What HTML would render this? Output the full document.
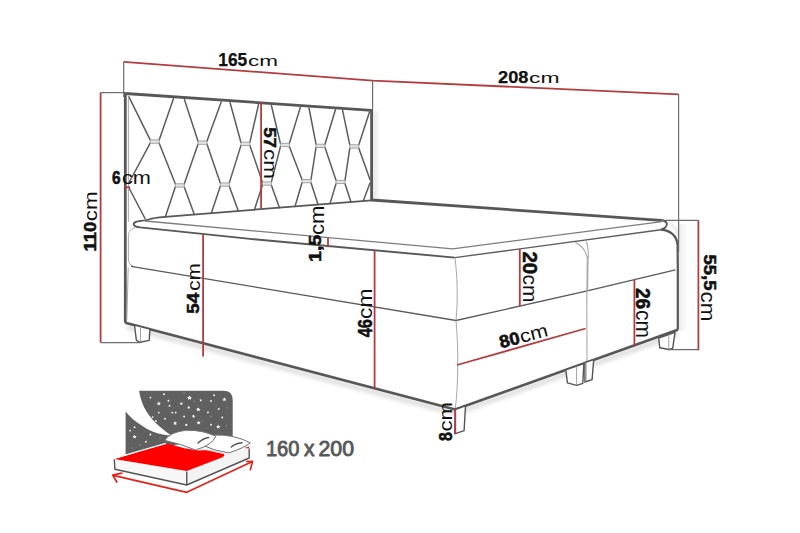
<!DOCTYPE html>
<html><head><meta charset="utf-8"><style>
html,body{margin:0;padding:0;background:#fff;}
svg{display:block;}
</style></head><body>
<svg width="800" height="533" viewBox="0 0 800 533">
<rect width="800" height="533" fill="#fff"/>
<defs>
<linearGradient id="gR" x1="0" y1="0" x2="1" y2="0"><stop offset="0" stop-color="#000" stop-opacity="0.07"/><stop offset="1" stop-color="#000" stop-opacity="0"/></linearGradient>
<linearGradient id="gH" x1="0" y1="0" x2="1" y2="0"><stop offset="0" stop-color="#000" stop-opacity="0.10"/><stop offset="1" stop-color="#000" stop-opacity="0"/></linearGradient>
<filter id="bl" x="-10%" y="-50%" width="120%" height="200%"><feGaussianBlur stdDeviation="2.2"/></filter>
</defs>
<rect x="679" y="224" width="9" height="107" fill="url(#gR)"/>
<path d="M664,221 C670,223 676,230 678,242 L678,228 C675,224 670,221.5 664,221 Z" fill="#000" fill-opacity="0.06"/>
<rect x="372.8" y="111" width="8" height="89" fill="url(#gH)"/>
<polyline points="127,327 455.2,413.5 677.8,334" fill="none" stroke="#000" stroke-opacity="0.16" stroke-width="4" filter="url(#bl)"/>
<g id="tuft"><line x1="150.2" y1="139.9" x2="128.8" y2="96.6" stroke="#5c5c5c" stroke-width="1.5" stroke-linecap="round"/>
<line x1="159.2" y1="139.9" x2="173.4" y2="98.8" stroke="#5c5c5c" stroke-width="1.5" stroke-linecap="round"/>
<line x1="150.2" y1="143.2" x2="128.8" y2="183.0" stroke="#5c5c5c" stroke-width="1.5" stroke-linecap="round"/>
<line x1="159.2" y1="143.2" x2="175.3" y2="183.8" stroke="#5c5c5c" stroke-width="1.5" stroke-linecap="round"/>
<line x1="198.0" y1="141.0" x2="184.4" y2="99.6" stroke="#5c5c5c" stroke-width="1.5" stroke-linecap="round"/>
<line x1="207.0" y1="141.0" x2="221.2" y2="102.1" stroke="#5c5c5c" stroke-width="1.5" stroke-linecap="round"/>
<line x1="198.0" y1="144.3" x2="184.3" y2="183.8" stroke="#5c5c5c" stroke-width="1.5" stroke-linecap="round"/>
<line x1="207.0" y1="144.3" x2="220.3" y2="182.9" stroke="#5c5c5c" stroke-width="1.5" stroke-linecap="round"/>
<line x1="240.9" y1="142.2" x2="230.1" y2="102.7" stroke="#5c5c5c" stroke-width="1.5" stroke-linecap="round"/>
<line x1="249.9" y1="142.2" x2="258.5" y2="104.6" stroke="#5c5c5c" stroke-width="1.5" stroke-linecap="round"/>
<line x1="240.9" y1="145.6" x2="229.3" y2="182.9" stroke="#5c5c5c" stroke-width="1.5" stroke-linecap="round"/>
<line x1="249.9" y1="145.6" x2="262.4" y2="181.9" stroke="#5c5c5c" stroke-width="1.5" stroke-linecap="round"/>
<line x1="280.4" y1="143.3" x2="271.4" y2="105.5" stroke="#5c5c5c" stroke-width="1.5" stroke-linecap="round"/>
<line x1="289.4" y1="143.3" x2="300.3" y2="107.4" stroke="#5c5c5c" stroke-width="1.5" stroke-linecap="round"/>
<line x1="280.4" y1="146.7" x2="271.4" y2="181.9" stroke="#5c5c5c" stroke-width="1.5" stroke-linecap="round"/>
<line x1="289.4" y1="146.7" x2="302.0" y2="179.5" stroke="#5c5c5c" stroke-width="1.5" stroke-linecap="round"/>
<line x1="316.0" y1="144.2" x2="309.0" y2="108.0" stroke="#5c5c5c" stroke-width="1.5" stroke-linecap="round"/>
<line x1="325.0" y1="144.2" x2="335.4" y2="109.8" stroke="#5c5c5c" stroke-width="1.5" stroke-linecap="round"/>
<line x1="316.0" y1="147.6" x2="311.0" y2="179.5" stroke="#5c5c5c" stroke-width="1.5" stroke-linecap="round"/>
<line x1="325.0" y1="147.6" x2="336.0" y2="180.3" stroke="#5c5c5c" stroke-width="1.5" stroke-linecap="round"/>
<line x1="349.8" y1="144.8" x2="342.6" y2="110.3" stroke="#5c5c5c" stroke-width="1.5" stroke-linecap="round"/>
<line x1="358.8" y1="144.8" x2="369.5" y2="112.1" stroke="#5c5c5c" stroke-width="1.5" stroke-linecap="round"/>
<line x1="349.8" y1="148.2" x2="345.0" y2="180.3" stroke="#5c5c5c" stroke-width="1.5" stroke-linecap="round"/>
<line x1="358.8" y1="148.2" x2="370.0" y2="179.5" stroke="#5c5c5c" stroke-width="1.5" stroke-linecap="round"/>
<line x1="175.3" y1="187.1" x2="165.3" y2="216.9" stroke="#5c5c5c" stroke-width="1.5" stroke-linecap="round"/>
<line x1="184.3" y1="187.1" x2="194.3" y2="214.5" stroke="#5c5c5c" stroke-width="1.5" stroke-linecap="round"/>
<line x1="220.3" y1="186.2" x2="211.3" y2="213.2" stroke="#5c5c5c" stroke-width="1.5" stroke-linecap="round"/>
<line x1="229.3" y1="186.2" x2="238.3" y2="211.0" stroke="#5c5c5c" stroke-width="1.5" stroke-linecap="round"/>
<line x1="262.4" y1="185.2" x2="254.4" y2="209.7" stroke="#5c5c5c" stroke-width="1.5" stroke-linecap="round"/>
<line x1="271.4" y1="185.2" x2="279.4" y2="207.7" stroke="#5c5c5c" stroke-width="1.5" stroke-linecap="round"/>
<line x1="302.0" y1="182.8" x2="295.0" y2="206.4" stroke="#5c5c5c" stroke-width="1.5" stroke-linecap="round"/>
<line x1="311.0" y1="182.8" x2="318.0" y2="204.6" stroke="#5c5c5c" stroke-width="1.5" stroke-linecap="round"/>
<line x1="336.0" y1="183.7" x2="330.0" y2="203.6" stroke="#5c5c5c" stroke-width="1.5" stroke-linecap="round"/>
<line x1="345.0" y1="183.7" x2="351.0" y2="201.9" stroke="#5c5c5c" stroke-width="1.5" stroke-linecap="round"/>
<line x1="128.8" y1="187.5" x2="145.0" y2="218.5" stroke="#5c5c5c" stroke-width="1.5" stroke-linecap="round"/>
<line x1="370.0" y1="183.0" x2="363.3" y2="201.0" stroke="#5c5c5c" stroke-width="1.5" stroke-linecap="round"/>
<rect x="150.2" y="139.9" width="9.0" height="3.3" fill="#e4e4e4" stroke="#9a9a9a" stroke-width="0.9"/>
<rect x="198.0" y="141.0" width="9.0" height="3.3" fill="#e4e4e4" stroke="#9a9a9a" stroke-width="0.9"/>
<rect x="240.9" y="142.2" width="9.0" height="3.3" fill="#e4e4e4" stroke="#9a9a9a" stroke-width="0.9"/>
<rect x="280.4" y="143.3" width="9.0" height="3.3" fill="#e4e4e4" stroke="#9a9a9a" stroke-width="0.9"/>
<rect x="316.0" y="144.2" width="9.0" height="3.3" fill="#e4e4e4" stroke="#9a9a9a" stroke-width="0.9"/>
<rect x="349.8" y="144.8" width="9.0" height="3.3" fill="#e4e4e4" stroke="#9a9a9a" stroke-width="0.9"/>
<rect x="175.3" y="183.8" width="9.0" height="3.3" fill="#e4e4e4" stroke="#9a9a9a" stroke-width="0.9"/>
<rect x="220.3" y="182.9" width="9.0" height="3.3" fill="#e4e4e4" stroke="#9a9a9a" stroke-width="0.9"/>
<rect x="262.4" y="181.9" width="9.0" height="3.3" fill="#e4e4e4" stroke="#9a9a9a" stroke-width="0.9"/>
<rect x="302.0" y="179.5" width="9.0" height="3.3" fill="#e4e4e4" stroke="#9a9a9a" stroke-width="0.9"/>
<rect x="336.0" y="180.3" width="9.0" height="3.3" fill="#e4e4e4" stroke="#9a9a9a" stroke-width="0.9"/></g>
<g id="bed"><polyline points="125.3,322.7 125.3,93.5 371.6,110.3 371.6,200.0 660.8,220.3" stroke="#575757" stroke-width="2.8" fill="none" stroke-linejoin="round"/>
<line x1="128.4" y1="96.5" x2="128.4" y2="222.0" stroke="#a8a8a8" stroke-width="1.0" />
<path d="M128.2,267.5 C127.8,285 127.4,300 126.8,320" stroke="#a8a8a8" stroke-width="1.0" fill="none" />
<path d="M371.5,200.3 L165,216.9 C157,217.6 152.5,218.1 149.5,219.3 C146.5,220.5 142,220.8 138,221.4" stroke="#575757" stroke-width="1.75" fill="none" stroke-linejoin="round"/>
<path d="M138,221.4 C134.6,221.9 133.2,223.4 133.9,225.0 C134.8,226.5 137,227.0 140,227.4 L250,238.9 L454.8,257.6" stroke="#575757" stroke-width="1.9" fill="none" stroke-linejoin="round"/>
<path d="M454.8,257.6 L520,248.9 L661.0,229.7" stroke="#5e5e5e" stroke-width="1.4" fill="none" />
<path d="M661.0,229.7 C664.5,228.6 667.8,226.0 666.8,223.4 C665.8,221.0 662.5,220.2 659.7,219.8" stroke="#575757" stroke-width="1.9" fill="none" />
<polyline points="145.0,221.0 452.5,248.9 662.0,221.7" stroke="#7c7c7c" stroke-width="1.3" fill="none" />
<path d="M135.5,227.6 C130.5,229 128.5,231.5 128.4,236 L128.4,259 C128.5,263 130,265.2 133.3,265.8" stroke="#a8a8a8" stroke-width="1.0" fill="none" />
<path d="M131,266.4 L456,320.5 L586.1,291.2 L675.4,269.9" stroke="#5a5a5a" stroke-width="1.3" fill="none" />
<path d="M454.8,257.6 C457.5,275 458,300 456,320.5 M456,321 C458.5,345 458.5,385 455.2,409.5" stroke="#a8a8a8" stroke-width="1.0" fill="none" />
<path d="M575.5,242.6 C581.5,245.5 585.8,250 587.2,258 M586,241.2 C587.8,245 588.6,250 588.2,258" stroke="#a8a8a8" stroke-width="1.1" fill="none" />
<path d="M587.7,257 L587.2,291" stroke="#a8a8a8" stroke-width="1.8" fill="none" />
<path d="M586.8,291.5 L587,361" stroke="#a8a8a8" stroke-width="1.1" fill="none" />
<path d="M661.0,229.7 C669,230.5 676.5,234 677.6,245 L677.8,270 L677.8,329.8" stroke="#575757" stroke-width="2.2" fill="none" />
<polyline points="125.3,322.7 455.2,409.5 677.8,329.8" stroke="#575757" stroke-width="2.7" fill="none" stroke-linejoin="round"/>
<polyline points="134.5,325.0 149.9,329.1 149.2,340.4 140.2,342.3 136.4,340.4 134.5,325.0" stroke="#555555" stroke-width="1.4" fill="#ffffff" stroke-linejoin="round"/>
<line x1="140.5" y1="326.5" x2="140.5" y2="342.0" stroke="#9a9a9a" stroke-width="0.9" />
<polyline points="455.2,409.5 465.5,405.8 464.1,430.6 454.7,433.8 455.2,409.5" stroke="#555555" stroke-width="1.4" fill="#ffffff" stroke-linejoin="round"/>
<polyline points="565.8,369.9 583.9,363.7 582.8,383.3 576.6,385.4 567.4,382.8 565.8,369.9" stroke="#555555" stroke-width="1.4" fill="#ffffff" stroke-linejoin="round"/>
<line x1="576.6" y1="366.5" x2="576.6" y2="385.0" stroke="#9a9a9a" stroke-width="0.9" />
<polyline points="584.9,362.6 593.7,359.6 592.1,379.6 584.9,382.0 584.9,362.6" stroke="#555555" stroke-width="1.4" fill="#ffffff" stroke-linejoin="round"/>
<line x1="586.2" y1="363.0" x2="586.2" y2="381.5" stroke="#9a9a9a" stroke-width="0.9" />
<polyline points="658.7,338.2 675.0,332.4 672.7,348.4 668.8,349.5 659.8,347.8 658.7,338.2" stroke="#555555" stroke-width="1.4" fill="#ffffff" stroke-linejoin="round"/>
<line x1="668.8" y1="334.5" x2="668.8" y2="349.0" stroke="#9a9a9a" stroke-width="0.9" /></g>
<g id="dims"><polyline points="123.7,61.8 372.6,80.6 678.6,94.3" stroke="#b23d40" stroke-width="1.8" fill="none" />
<line x1="123.7" y1="61.8" x2="123.7" y2="97.0" stroke="#6e6e6e" stroke-width="1.2" />
<line x1="372.6" y1="80.6" x2="372.6" y2="110.0" stroke="#6e6e6e" stroke-width="1.2" />
<line x1="678.6" y1="94.3" x2="678.6" y2="252.0" stroke="#6e6e6e" stroke-width="1.2" />
<line x1="100.5" y1="92.6" x2="129.0" y2="92.6" stroke="#6e6e6e" stroke-width="1.2" />
<line x1="100.5" y1="342.7" x2="140.0" y2="342.7" stroke="#6e6e6e" stroke-width="1.3" />
<line x1="660.0" y1="220.3" x2="698.4" y2="220.3" stroke="#6e6e6e" stroke-width="1.2" />
<line x1="668.0" y1="349.6" x2="698.4" y2="349.6" stroke="#6e6e6e" stroke-width="1.3" />
<line x1="100.6" y1="92.6" x2="100.6" y2="342.4" stroke="#b23d40" stroke-width="1.8" />
<line x1="261.1" y1="101.8" x2="261.1" y2="208.5" stroke="#b23d40" stroke-width="1.8" />
<line x1="124.5" y1="187.3" x2="130.0" y2="187.3" stroke="#b23d40" stroke-width="1.8" />
<line x1="328.0" y1="237.8" x2="328.0" y2="247.2" stroke="#b23d40" stroke-width="1.8" />
<line x1="203.1" y1="234.5" x2="203.1" y2="356.4" stroke="#b23d40" stroke-width="1.8" />
<line x1="374.6" y1="250.8" x2="374.6" y2="388.6" stroke="#b23d40" stroke-width="1.8" />
<line x1="519.8" y1="249.0" x2="519.8" y2="306.2" stroke="#b23d40" stroke-width="1.8" />
<line x1="634.4" y1="279.6" x2="634.4" y2="346.4" stroke="#b23d40" stroke-width="1.8" />
<line x1="698.4" y1="220.3" x2="698.4" y2="350.2" stroke="#b23d40" stroke-width="1.8" />
<line x1="457.0" y1="365.0" x2="585.6" y2="328.5" stroke="#b23d40" stroke-width="1.8" />
<line x1="455.3" y1="409.5" x2="455.3" y2="434.0" stroke="#b23d40" stroke-width="1.8" /></g>
<g id="text"><text transform="translate(218.30,65.90) rotate(0)" x="0" y="0" font-family="Liberation Sans, sans-serif" font-size="17.82" font-weight="bold" fill="#111" textLength="28.90" lengthAdjust="spacingAndGlyphs" stroke="#111" stroke-width="0.25" stroke-linejoin="round">165</text>
<text transform="translate(248.00,66.40) rotate(0)" x="0" y="0" font-family="Liberation Sans, sans-serif" font-size="15.29" font-weight="normal" fill="#111" textLength="30.00" lengthAdjust="spacingAndGlyphs" stroke="#111" stroke-width="0.0" stroke-linejoin="round">cm</text>
<text transform="translate(498.00,82.75) rotate(0)" x="0" y="0" font-family="Liberation Sans, sans-serif" font-size="17.11" font-weight="bold" fill="#111" textLength="30.40" lengthAdjust="spacingAndGlyphs" stroke="#111" stroke-width="0.25" stroke-linejoin="round">208</text>
<text transform="translate(529.00,83.00) rotate(0)" x="0" y="0" font-family="Liberation Sans, sans-serif" font-size="14.63" font-weight="normal" fill="#111" textLength="30.50" lengthAdjust="spacingAndGlyphs" stroke="#111" stroke-width="0.0" stroke-linejoin="round">cm</text>
<text transform="translate(111.90,183.90) rotate(0)" x="0" y="0" font-family="Liberation Sans, sans-serif" font-size="17.89" font-weight="bold" fill="#111" textLength="8.60" lengthAdjust="spacingAndGlyphs" stroke="#111" stroke-width="0.55" stroke-linejoin="round">6</text>
<text transform="translate(122.00,183.80) rotate(0)" x="0" y="0" font-family="Liberation Sans, sans-serif" font-size="18.18" font-weight="normal" fill="#111" textLength="29.00" lengthAdjust="spacingAndGlyphs" stroke="#111" stroke-width="0.0" stroke-linejoin="round">cm</text>
<text transform="translate(96.20,251.60) rotate(-90)" x="0" y="0" font-family="Liberation Sans, sans-serif" font-size="17.07" font-weight="bold" fill="#111" textLength="29.80" lengthAdjust="spacingAndGlyphs" stroke="#111" stroke-width="0.55" stroke-linejoin="round">110</text>
<text transform="translate(97.40,221.20) rotate(-90)" x="0" y="0" font-family="Liberation Sans, sans-serif" font-size="18.92" font-weight="normal" fill="#111" textLength="29.80" lengthAdjust="spacingAndGlyphs" stroke="#111" stroke-width="0.0" stroke-linejoin="round">cm</text>
<text transform="translate(264.20,127.20) rotate(90)" x="0" y="0" font-family="Liberation Sans, sans-serif" font-size="16.74" font-weight="bold" fill="#111" textLength="20.80" lengthAdjust="spacingAndGlyphs" stroke="#111" stroke-width="0.55" stroke-linejoin="round">57</text>
<text transform="translate(264.20,149.00) rotate(90)" x="0" y="0" font-family="Liberation Sans, sans-serif" font-size="17.82" font-weight="normal" fill="#111" textLength="29.80" lengthAdjust="spacingAndGlyphs" stroke="#111" stroke-width="0.0" stroke-linejoin="round">cm</text>
<text transform="translate(320.60,262.00) rotate(-90)" x="0" y="0" font-family="Liberation Sans, sans-serif" font-size="16.24" font-weight="bold" fill="#111" textLength="27.20" lengthAdjust="spacingAndGlyphs" stroke="#111" stroke-width="0.55" stroke-linejoin="round">1,5</text>
<text transform="translate(324.00,235.00) rotate(-90)" x="0" y="0" font-family="Liberation Sans, sans-serif" font-size="20.07" font-weight="normal" fill="#111" textLength="29.50" lengthAdjust="spacingAndGlyphs" stroke="#111" stroke-width="0.0" stroke-linejoin="round">cm</text>
<text transform="translate(199.30,313.70) rotate(-90)" x="0" y="0" font-family="Liberation Sans, sans-serif" font-size="17.29" font-weight="bold" fill="#111" textLength="21.10" lengthAdjust="spacingAndGlyphs" stroke="#111" stroke-width="0.55" stroke-linejoin="round">54</text>
<text transform="translate(200.20,290.80) rotate(-90)" x="0" y="0" font-family="Liberation Sans, sans-serif" font-size="18.55" font-weight="normal" fill="#111" textLength="27.60" lengthAdjust="spacingAndGlyphs" stroke="#111" stroke-width="0.0" stroke-linejoin="round">cm</text>
<text transform="translate(372.10,337.30) rotate(-90)" x="0" y="0" font-family="Liberation Sans, sans-serif" font-size="19.86" font-weight="bold" fill="#111" textLength="18.30" lengthAdjust="spacingAndGlyphs" stroke="#111" stroke-width="0.55" stroke-linejoin="round">46</text>
<text transform="translate(372.20,319.00) rotate(-90)" x="0" y="0" font-family="Liberation Sans, sans-serif" font-size="20.43" font-weight="normal" fill="#111" textLength="30.40" lengthAdjust="spacingAndGlyphs" stroke="#111" stroke-width="0.0" stroke-linejoin="round">cm</text>
<text transform="translate(523.00,251.40) rotate(90)" x="0" y="0" font-family="Liberation Sans, sans-serif" font-size="19.44" font-weight="bold" fill="#111" textLength="22.80" lengthAdjust="spacingAndGlyphs" stroke="#111" stroke-width="0.55" stroke-linejoin="round">20</text>
<text transform="translate(523.00,274.60) rotate(90)" x="0" y="0" font-family="Liberation Sans, sans-serif" font-size="21.11" font-weight="normal" fill="#111" textLength="27.80" lengthAdjust="spacingAndGlyphs" stroke="#111" stroke-width="0.0" stroke-linejoin="round">cm</text>
<text transform="translate(636.40,288.00) rotate(90)" x="0" y="0" font-family="Liberation Sans, sans-serif" font-size="20.00" font-weight="bold" fill="#111" textLength="21.20" lengthAdjust="spacingAndGlyphs" stroke="#111" stroke-width="0.55" stroke-linejoin="round">26</text>
<text transform="translate(636.40,310.00) rotate(90)" x="0" y="0" font-family="Liberation Sans, sans-serif" font-size="21.48" font-weight="normal" fill="#111" textLength="27.80" lengthAdjust="spacingAndGlyphs" stroke="#111" stroke-width="0.0" stroke-linejoin="round">cm</text>
<text transform="translate(704.00,254.50) rotate(90)" x="0" y="0" font-family="Liberation Sans, sans-serif" font-size="16.64" font-weight="bold" fill="#111" textLength="36.00" lengthAdjust="spacingAndGlyphs" stroke="#111" stroke-width="0.55" stroke-linejoin="round">55,5</text>
<text transform="translate(701.40,291.60) rotate(90)" x="0" y="0" font-family="Liberation Sans, sans-serif" font-size="21.11" font-weight="normal" fill="#111" textLength="29.80" lengthAdjust="spacingAndGlyphs" stroke="#111" stroke-width="0.0" stroke-linejoin="round">cm</text>
<text transform="translate(452.40,441.00) rotate(-90)" x="0" y="0" font-family="Liberation Sans, sans-serif" font-size="18.59" font-weight="bold" fill="#111" textLength="8.90" lengthAdjust="spacingAndGlyphs" stroke="#111" stroke-width="0.55" stroke-linejoin="round">8</text>
<text transform="translate(452.20,431.60) rotate(-90)" x="0" y="0" font-family="Liberation Sans, sans-serif" font-size="18.59" font-weight="normal" fill="#111" textLength="29.60" lengthAdjust="spacingAndGlyphs" stroke="#111" stroke-width="0.0" stroke-linejoin="round">cm</text>
<text transform="translate(265.90,455.70) rotate(0)" x="0" y="0" font-family="Liberation Sans, sans-serif" font-size="21.98" font-weight="normal" fill="#585858" textLength="33.60" lengthAdjust="spacingAndGlyphs" stroke="#585858" stroke-width="0.9" stroke-linejoin="round">160</text>
<text transform="translate(304.10,455.90) rotate(0)" x="0" y="0" font-family="Liberation Sans, sans-serif" font-size="21.89" font-weight="normal" fill="#585858" textLength="10.50" lengthAdjust="spacingAndGlyphs" stroke="#585858" stroke-width="0.9" stroke-linejoin="round">x</text>
<text transform="translate(318.50,455.80) rotate(0)" x="0" y="0" font-family="Liberation Sans, sans-serif" font-size="22.64" font-weight="normal" fill="#585858" textLength="35.50" lengthAdjust="spacingAndGlyphs" stroke="#585858" stroke-width="0.9" stroke-linejoin="round">200</text>
<g transform="translate(501.0,348.3) rotate(-14.5)"><text x="0" y="0" font-family="Liberation Sans, sans-serif" font-size="17.5" font-weight="bold" fill="#111" stroke="#111" stroke-width="0.6" stroke-linejoin="round" textLength="20.5" lengthAdjust="spacingAndGlyphs">80</text><text x="21.1" y="0" font-family="Liberation Sans, sans-serif" font-size="18.55" fill="#111" textLength="28.5" lengthAdjust="spacingAndGlyphs">cm</text></g></g>
<g id="icon"><path d="M139.1,390.8 L223.5,390.8 Q232.7,390.8 232.7,400 L232.7,436 L200,440 L125.6,455 L125.6,411.4 C127.5,413.8 129.3,415.8 131.2,417.6 C134,420.3 136.5,422.2 139.1,423.8 C142,425.9 145,427.8 148.1,429.4 C151.5,431.1 154.8,432.4 158.2,433.4 C162,434.5 165.8,435.2 169.5,435.6 L171,435 C168.5,433.8 166.2,432 163.9,430 C161.2,427.8 158.6,425.5 156,423.2 C153.6,420.6 151.3,418 149.2,415.4 C147.3,412.8 145.6,410.1 144.2,407.5 C142.8,404.7 141.7,401.6 140.8,398.5 C140.1,396 139.5,393.4 139.1,390.8 Z" fill="#606060"/>
<polygon points="189.30,395.60 189.87,397.12 191.49,397.19 190.22,398.20 190.65,399.76 189.30,398.87 187.95,399.76 188.38,398.20 187.11,397.19 188.73,397.12" fill="#fff"/>
<polygon points="224.40,397.20 224.97,398.72 226.59,398.79 225.32,399.80 225.75,401.36 224.40,400.47 223.05,401.36 223.48,399.80 222.21,398.79 223.83,398.72" fill="#fff"/>
<polygon points="198.40,407.30 198.97,408.82 200.59,408.89 199.32,409.90 199.75,411.46 198.40,410.57 197.05,411.46 197.48,409.90 196.21,408.89 197.83,408.82" fill="#fff"/>
<polygon points="198.60,420.40 199.17,421.92 200.79,421.99 199.52,423.00 199.95,424.56 198.60,423.67 197.25,424.56 197.68,423.00 196.41,421.99 198.03,421.92" fill="#fff"/>
<polygon points="218.20,424.50 218.77,426.02 220.39,426.09 219.12,427.10 219.55,428.66 218.20,427.77 216.85,428.66 217.28,427.10 216.01,426.09 217.63,426.02" fill="#fff"/>
<polygon points="189.70,395.60 190.27,397.12 191.89,397.19 190.62,398.20 191.05,399.76 189.70,398.87 188.35,399.76 188.78,398.20 187.51,397.19 189.13,397.12" fill="#fff"/>
<polygon points="158.80,401.30 159.37,402.82 160.99,402.89 159.72,403.90 160.15,405.46 158.80,404.57 157.45,405.46 157.88,403.90 156.61,402.89 158.23,402.82" fill="#fff"/>
<polygon points="175.10,420.90 175.67,422.42 177.29,422.49 176.02,423.50 176.45,425.06 175.10,424.17 173.75,425.06 174.18,423.50 172.91,422.49 174.53,422.42" fill="#fff"/>
<polygon points="134.60,434.40 135.17,435.92 136.79,435.99 135.52,437.00 135.95,438.56 134.60,437.67 133.25,438.56 133.68,437.00 132.41,435.99 134.03,435.92" fill="#fff"/>
<polygon points="200.70,398.70 201.09,399.76 202.22,399.81 201.34,400.51 201.64,401.59 200.70,400.97 199.76,401.59 200.06,400.51 199.18,399.81 200.31,399.76" fill="#fff"/>
<polygon points="193.40,414.40 193.79,415.46 194.92,415.51 194.04,416.21 194.34,417.29 193.40,416.67 192.46,417.29 192.76,416.21 191.88,415.51 193.01,415.46" fill="#fff"/>
<polygon points="181.30,402.00 181.69,403.06 182.82,403.11 181.94,403.81 182.24,404.89 181.30,404.27 180.36,404.89 180.66,403.81 179.78,403.11 180.91,403.06" fill="#fff"/>
<polygon points="193.70,414.90 194.09,415.96 195.22,416.01 194.34,416.71 194.64,417.79 193.70,417.17 192.76,417.79 193.06,416.71 192.18,416.01 193.31,415.96" fill="#fff"/>
<circle cx="214.1" cy="395.3" r="0.95" fill="#f4f4f4"/>
<circle cx="211.0" cy="401.0" r="0.95" fill="#f4f4f4"/>
<circle cx="181.5" cy="403.6" r="0.95" fill="#f4f4f4"/>
<circle cx="188.8" cy="407.5" r="0.95" fill="#f4f4f4"/>
<circle cx="207.9" cy="412.4" r="0.95" fill="#f4f4f4"/>
<circle cx="218.7" cy="409.0" r="0.95" fill="#f4f4f4"/>
<circle cx="184.1" cy="416.5" r="0.95" fill="#f4f4f4"/>
<circle cx="222.3" cy="417.5" r="0.95" fill="#f4f4f4"/>
<circle cx="186.2" cy="424.8" r="0.95" fill="#f4f4f4"/>
<circle cx="211.0" cy="424.8" r="0.95" fill="#f4f4f4"/>
<circle cx="150.4" cy="397.6" r="0.95" fill="#f4f4f4"/>
<circle cx="163.9" cy="394.2" r="0.95" fill="#f4f4f4"/>
<circle cx="168.4" cy="400.7" r="0.95" fill="#f4f4f4"/>
<circle cx="169.5" cy="405.8" r="0.95" fill="#f4f4f4"/>
<circle cx="188.6" cy="407.5" r="0.95" fill="#f4f4f4"/>
<circle cx="158.8" cy="412.6" r="0.95" fill="#f4f4f4"/>
<circle cx="172.3" cy="412.6" r="0.95" fill="#f4f4f4"/>
<circle cx="175.7" cy="412.6" r="0.95" fill="#f4f4f4"/>
<circle cx="152.6" cy="417.1" r="0.95" fill="#f4f4f4"/>
<circle cx="165.0" cy="418.7" r="0.95" fill="#f4f4f4"/>
<circle cx="156.0" cy="421.0" r="0.95" fill="#f4f4f4"/>
<circle cx="186.4" cy="425.0" r="0.95" fill="#f4f4f4"/>
<circle cx="134.6" cy="427.2" r="0.95" fill="#f4f4f4"/>
<circle cx="130.1" cy="430.6" r="0.95" fill="#f4f4f4"/>
<circle cx="150.4" cy="434.5" r="0.95" fill="#f4f4f4"/>
<circle cx="145.9" cy="441.8" r="0.95" fill="#f4f4f4"/>
<circle cx="197.6" cy="409.2" r="0.95" fill="#f4f4f4"/>
<circle cx="227.0" cy="407.7" r="0.7" fill="#9a9a9a"/>
<circle cx="211.0" cy="416.5" r="0.7" fill="#9a9a9a"/>
<circle cx="226.5" cy="425.8" r="0.7" fill="#9a9a9a"/>
<circle cx="202.2" cy="420.6" r="0.7" fill="#9a9a9a"/>
<circle cx="194.5" cy="401.5" r="0.7" fill="#9a9a9a"/>
<circle cx="184.1" cy="393.1" r="0.7" fill="#9a9a9a"/>
<circle cx="140.0" cy="445.0" r="0.7" fill="#9a9a9a"/>
<circle cx="132.0" cy="448.0" r="0.7" fill="#9a9a9a"/>
<circle cx="160.0" cy="438.0" r="0.7" fill="#9a9a9a"/>
<polyline points="113.2,475.3 186.75,492.3 252.4,461.6" fill="none" stroke="#e3231b" stroke-width="1.7" stroke-linejoin="round"/>
<polyline points="121.8,473.2 112.8,475.2 116.8,482" fill="none" stroke="#e3231b" stroke-width="1.7" stroke-linejoin="round" stroke-linecap="round"/>
<polyline points="246.8,461.5 252.6,461.4 250.4,469.6" fill="none" stroke="#e3231b" stroke-width="1.7" stroke-linejoin="round" stroke-linecap="round"/>
<path d="M114.3,459 L186.75,470.9 L186.75,485 L114.9,469.3 Z" fill="#f7f7f7"/>
<path d="M186.75,470.9 L249.2,448.4 L249.2,458 L186.75,485 Z" fill="#f3f3f3"/>
<polyline points="114.3,459.3 114.9,469.3 186.75,485 249.2,458 249.2,448.6" fill="none" stroke="#555" stroke-width="1.4" stroke-linejoin="round"/>
<line x1="186.75" y1="471.5" x2="186.75" y2="485" stroke="#555" stroke-width="1.4"/>
<path d="M186.75,470.9 L249.2,448.4 L244,443 L200,447 Z" fill="#f4f4f4"/>
<path d="M114.3,459 L165.5,444 C170,444.1 174,445 177.8,446.4 C182,447.6 187,448.6 190.9,449.3 C194,450 196,450.5 199,450.5 C203,450.3 206,450.2 207.5,450.5 C213,451.6 219,452.8 224.1,454.1 C224.8,455.5 224,456.3 222.5,457.2 L186.75,470.9 Z" fill="#fe0000"/>
<line x1="114.0" y1="458.4" x2="166" y2="443.3" stroke="#fff" stroke-width="1.3"/>
<path d="M244.5,448 L249,446.6 L249,448.5 Z" fill="#e3231b"/>
<path d="M201,444.5 Q205,436.5 212.3,435.1 Q233,433.8 250.3,442.8 Q245,447.5 228.9,452.9 Q214,451 201,444.5 Z" fill="#fff" stroke="#707070" stroke-width="1.0" stroke-linejoin="round"/>
<path d="M164.75,440.4 Q169.5,432.3 185.5,430.3 Q202,429.6 215.8,436.3 Q212.5,444.8 195.6,450 Q181,443.8 164.75,440.4 Z" fill="#fff" stroke="#707070" stroke-width="1.0" stroke-linejoin="round"/>
<path d="M198,443 C201,440 204.5,438.3 208.7,437.5" fill="none" stroke="#555" stroke-width="1.4" stroke-linecap="round"/>
<path d="M231.3,447 C234,444.5 237.5,443.2 242,442.8" fill="none" stroke="#555" stroke-width="1.4" stroke-linecap="round"/></g>
</svg>
</body></html>
